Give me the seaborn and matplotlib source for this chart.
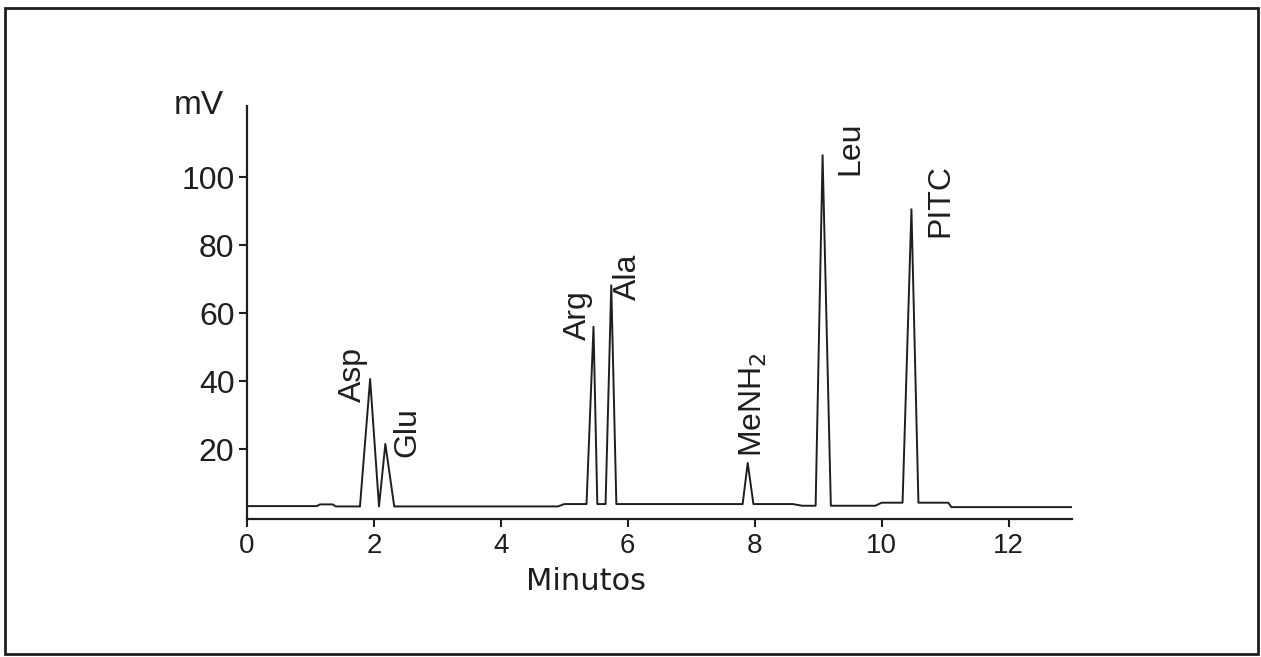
import numpy as np
import pandas as pd
import matplotlib
matplotlib.use("Agg")
import matplotlib.pyplot as plt
from matplotlib.patches import Rectangle
import seaborn as sns

# Baseline drift of the detector signal (min, mV)
base_t = [0.0, 1.10, 1.15, 1.35, 1.40, 4.90, 5.00, 8.60, 8.75, 9.90, 10.00, 11.05, 11.10, 13.0]
base_mv = [3.2, 3.2, 3.7, 3.7, 3.1, 3.1, 3.8, 3.8, 3.3, 3.3, 4.2, 4.2, 2.9, 2.9]

# Peaks: name, start, apex, end (min) and apex height (mV)
peak_names = ["Asp", "Glu", "Arg", "Ala", "MeNH$_2$", "Leu", "PITC"]
peak_start = [1.78, 2.08, 5.35, 5.65, 7.81, 8.96, 10.33]
peak_apex = [1.94, 2.18, 5.46, 5.74, 7.89, 9.07, 10.47]
peak_end = [2.08, 2.32, 5.52, 5.82, 7.98, 9.20, 10.58]
peak_mv = [40.6, 21.5, 56.0, 68.2, 15.9, 106.5, 90.6]

# Label anchors (centre time, lower end in mV)
label_t = [1.67, 2.52, 5.21, 6.01, 7.98, 9.51, 10.93]
label_mv = [33.8, 17.6, 52.0, 63.8, 17.6, 100.6, 82.4]

x_ticks = [0, 2, 4, 6, 8, 10, 12]
y_ticks = [20, 40, 60, 80, 100]

# Assemble the chromatogram trace
pts_t = list(base_t)
pts_v = list(base_mv)
for s, a, e, h in zip(peak_start, peak_apex, peak_end, peak_mv):
    for t in (s, e):
        pts_t.append(t)
        pts_v.append(float(np.interp(t, base_t, base_mv)))
    pts_t.append(a)
    pts_v.append(h)
trace = pd.DataFrame({"t": pts_t, "mv": pts_v}).sort_values(["t", "mv"]).reset_index(drop=True)

sns.set_theme(style="ticks")
plt.rcParams["font.family"] = ["Liberation Sans", "DejaVu Sans"]

W, H = 1261, 657
fig = plt.figure(figsize=(W / 100, H / 100), dpi=100)
ax = fig.add_axes([247 / W, (H - 519) / H, 825 / W, 413 / H])

ink = "#1e1e1e"
sns.lineplot(data=trace, x="t", y="mv", ax=ax, color=ink, linewidth=1.4,
             sort=False, estimator=None)

ax.set_xlim(0, 13.0)
ax.set_ylim(-0.6, 121)
ax.set_xticks(x_ticks)
ax.set_yticks(y_ticks)
ax.set_xticklabels([str(v) for v in x_ticks], fontsize=20)
ax.set_yticklabels([str(v) for v in y_ticks], fontsize=23)
ax.tick_params(axis="both", colors=ink, width=1.5, length=6, pad=3)
ax.tick_params(axis="x", pad=4)
ax.set_xlabel("")
ax.set_ylabel("")
for side in ("top", "right"):
    ax.spines[side].set_visible(False)
for side in ("left", "bottom"):
    ax.spines[side].set_color(ink)
    ax.spines[side].set_linewidth(1.6)

for name, t, v in zip(peak_names, label_t, label_mv):
    ax.text(t, v, name, rotation=90, ha="center", va="bottom",
            fontsize=23, color=ink)

fig.text(199 / W, 1 - 105 / H, "mV", ha="center", va="center", fontsize=24, color=ink)
fig.text(586 / W, 1 - 582 / H, "Minutos", ha="center", va="center", fontsize=22,
         color=ink, family=["DejaVu Sans"])

fig.patches.append(Rectangle((5 / W, 1 - 654 / H), 1253 / W, 646 / H,
                             transform=fig.transFigure, fill=False,
                             edgecolor=ink, linewidth=2.0))

fig.savefig("out.png", dpi=100, facecolor="white")
